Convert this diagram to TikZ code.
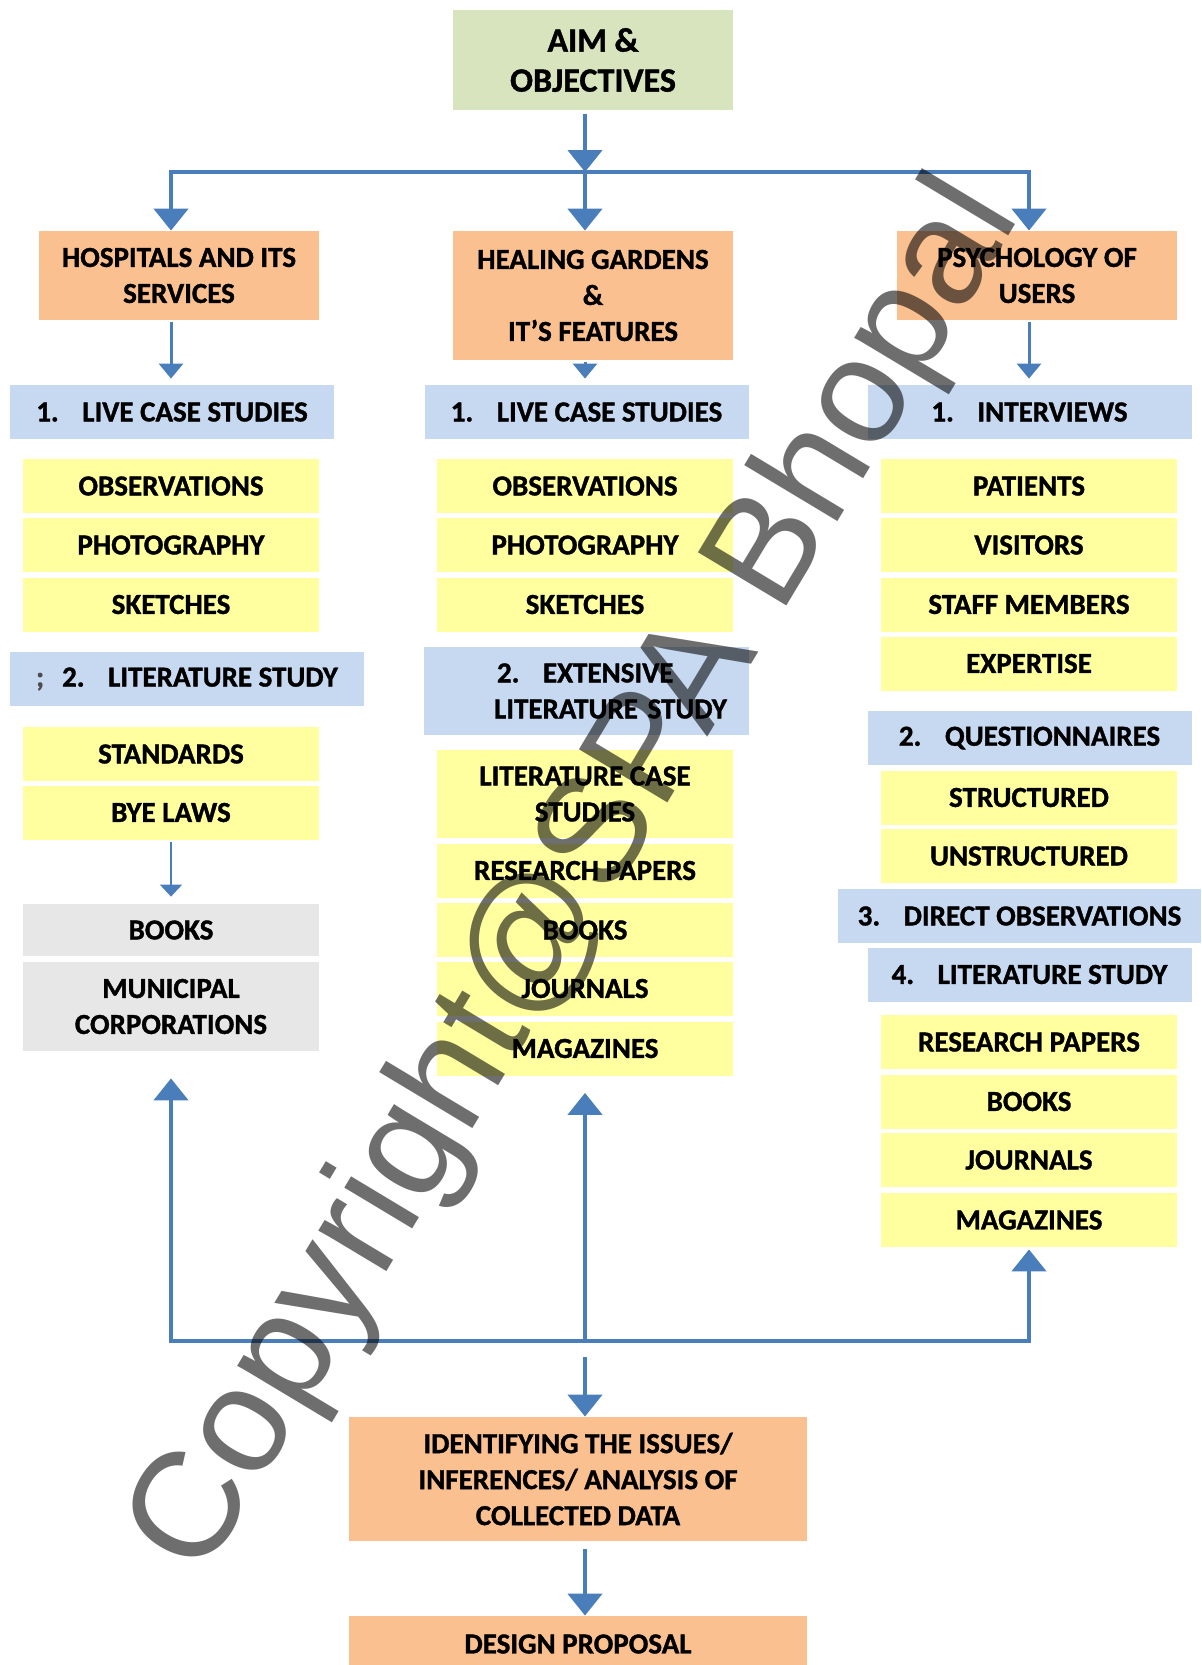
\documentclass[tikz,border=0pt]{standalone}
\usepackage{fontspec}
\setmainfont{Carlito}[BoldFeatures={FakeBold=1.2}]
\newfontfamily\wmfont{Liberation Sans}
\usetikzlibrary{arrows.meta}
\definecolor{flowblue}{RGB}{74,126,187}
\definecolor{aimgreen}{RGB}{215,228,189}
\definecolor{topicorange}{RGB}{250,192,144}
\definecolor{methodblue}{RGB}{198,217,241}
\definecolor{itemyellow}{RGB}{255,255,160}
\definecolor{sourcegray}{RGB}{231,231,231}
\newcommand{\numlabel}[2]{\makebox[23pt][l]{#1}#2}
\begin{document}
\begin{tikzpicture}[x=0.5pt, y=-0.5pt,
    every node/.style={font=\fontsize{14.5}{18}\selectfont\bfseries, align=center, inner sep=0pt},
    aimbox/.style={fill=aimgreen, minimum width=140pt, minimum height=50pt, font=\fontsize{17}{20}\selectfont\bfseries},
    topicbox/.style={fill=topicorange, minimum width=140pt, minimum height=44.5pt},
    methodbox/.style={fill=methodblue, minimum width=162pt, minimum height=27pt},
    itembox/.style={fill=itemyellow, minimum width=148pt, minimum height=27pt},
    sourcebox/.style={fill=sourcegray, minimum width=148pt, minimum height=26pt},
    bigtip/.tip={Triangle[width=17pt,length=11pt]},
    midtip/.tip={Triangle[width=12pt,length=7.5pt]},
    smalltip/.tip={Triangle[width=11pt,length=6pt]},
    bigarrow/.style={draw=flowblue, line width=2.3pt, -bigtip},
    midarrow/.style={draw=flowblue, line width=1.5pt, -midtip},
    smallarrow/.style={draw=flowblue, line width=1pt, -smalltip},
    flowline/.style={draw=flowblue, line width=2pt},
    watermark/.style={font=\wmfont\fontsize{75}{75}\selectfont, text=black, text opacity=0.57, rotate=59}]
\useasboundingbox (0,0) rectangle (1201,1665);

% top
\node[aimbox] (aim) at (593,60) {AIM \&\\OBJECTIVES};
\node[topicbox] (hosp) at (179,275.5) {HOSPITALS AND ITS\\SERVICES};
\node[topicbox, minimum height=64.5pt] (heal) at (593,295.5) {HEALING GARDENS\\\&\\IT’S FEATURES};
\node[topicbox] (psy) at (1037,275.5) {PSYCHOLOGY OF\\USERS};

% left column
\node[methodbox] (llive) at (172,412) {\numlabel{1.}{LIVE CASE STUDIES}};
\node[itembox] (lobs) at (171,486) {OBSERVATIONS};
\node[itembox] (lphoto) at (171,545) {PHOTOGRAPHY};
\node[itembox] (lsketch) at (171,604.5) {SKETCHES};
\node[methodbox, minimum width=177pt] (llit) at (187,679) {{\color{black!70};}\hspace{9pt}\numlabel{2.}{LITERATURE STUDY}};
\node[itembox] (lstd) at (171,754) {STANDARDS};
\node[itembox] (lbye) at (171,812.5) {BYE LAWS};
\node[sourcebox] (lbooks) at (171,930) {BOOKS};
\node[sourcebox, minimum height=44.5pt] (lmun) at (171,1006.5) {MUNICIPAL\\CORPORATIONS};

% middle column
\node[methodbox] (mlive) at (586.5,412) {\numlabel{1.}{LIVE CASE STUDIES}};
\node[itembox] (mobs) at (585,486) {OBSERVATIONS};
\node[itembox] (mphoto) at (585,545) {PHOTOGRAPHY};
\node[itembox] (msketch) at (585,604.5) {SKETCHES};
\node[methodbox, minimum height=44pt, text width=162.5pt, align=left] (mext) at (586.5,691)
    {\hspace*{36.5pt}\numlabel{2.}{EXTENSIVE}\\\hspace*{35pt}LITERATURE STUDY};
\node[itembox, minimum height=44pt] (mlcs) at (585,794) {LITERATURE CASE\\STUDIES};
\node[itembox] (mres) at (585,870.5) {RESEARCH PAPERS};
\node[itembox] (mbooks) at (585,930) {BOOKS};
\node[itembox] (mjour) at (585,988.5) {JOURNALS};
\node[itembox] (mmag) at (585,1048.5) {MAGAZINES};

% right column
\node[methodbox] (rint) at (1029.5,412) {\numlabel{1.}{INTERVIEWS}};
\node[itembox] (rpat) at (1029,486) {PATIENTS};
\node[itembox] (rvis) at (1029,545) {VISITORS};
\node[itembox] (rstaff) at (1029,604.5) {STAFF MEMBERS};
\node[itembox] (rexp) at (1029,663.5) {EXPERTISE};
\node[methodbox] (rques) at (1029.5,738) {\numlabel{2.}{QUESTIONNAIRES}};
\node[itembox] (rstr) at (1029,797.5) {STRUCTURED};
\node[itembox] (runs) at (1029,856) {UNSTRUCTURED};
\node[methodbox, minimum width=181.5pt] (rdir) at (1019.5,916) {\numlabel{3.}{DIRECT OBSERVATIONS}};
\node[methodbox] (rlit) at (1029.5,974.5) {\numlabel{4.}{LITERATURE STUDY}};
\node[itembox] (rres) at (1029,1042) {RESEARCH PAPERS};
\node[itembox] (rbooks) at (1029,1101.5) {BOOKS};
\node[itembox] (rjour) at (1029,1160) {JOURNALS};
\node[itembox] (rmag) at (1029,1220) {MAGAZINES};

% bottom
\node[topicbox, minimum width=229pt, minimum height=62pt] (ident) at (578,1479)
    {IDENTIFYING THE ISSUES/\\INFERENCES/ ANALYSIS OF\\COLLECTED DATA};
\node[topicbox, minimum width=229pt, minimum height=28pt] (design) at (578,1644) {DESIGN PROPOSAL};

\coordinate (split) at (585,172);
\coordinate (merge) at (585,1341);

% arrows
\draw[bigarrow, shorten <=2pt] (aim.south -| split) -- (split);
\draw[bigarrow, bigtip-bigtip] (hosp.north -| lobs) |- (split -| rpat) -- (psy.north -| rpat);
\draw[bigarrow] (split) -- (heal.north -| split);
\draw[midarrow, shorten <=1pt, shorten >=3pt] (hosp.south -| lobs) -- (llive.north -| lobs);
\draw[midarrow, shorten <=1pt, shorten >=3pt] (heal.south -| mobs) -- (mlive.north -| mobs);
\draw[midarrow, shorten <=1pt, shorten >=3pt] (psy.south -| rpat) -- (rint.north -| rpat);
\draw[smallarrow, shorten <=1pt, shorten >=3.5pt] (lbye) -- (lbooks);

\draw[bigarrow, bigtip-bigtip, shorten <=13.5pt, shorten >=1pt] (lmun.south) |- (merge) -| (rmag.south);
\draw[flowline, -bigtip, line width=2.3pt, shorten >=8.5pt] (merge) -- (mmag.south);
\draw[bigarrow, shorten <=8pt] (merge) -- (ident.north -| merge);
\draw[bigarrow, shorten <=4pt] (ident.south -| merge) -- (design.north -| merge);

\node[watermark] (wm) at (578,878) {Copyright@SPA Bhopal};
\end{tikzpicture}
\end{document}
